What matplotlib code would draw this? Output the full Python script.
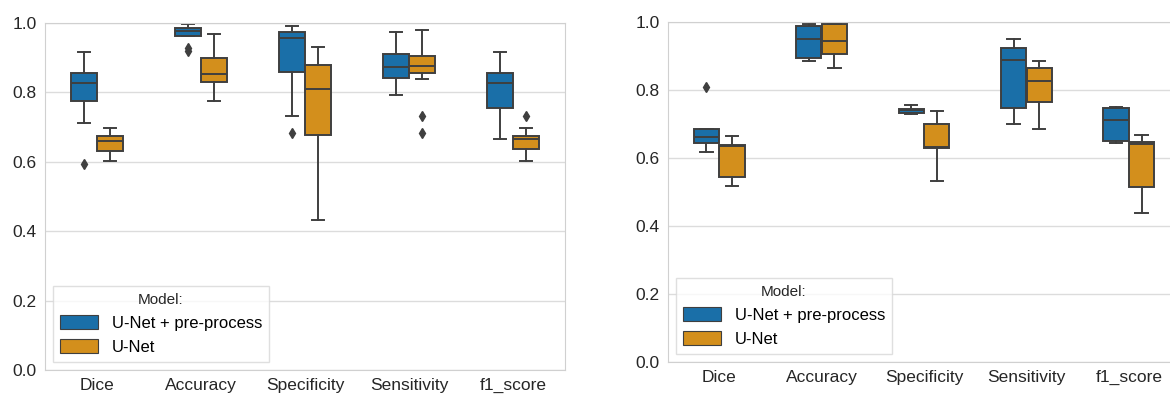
import matplotlib.pyplot as plt
import numpy as np

plt.rcParams['font.family'] = ['Liberation Sans', 'DejaVu Sans']

metrics = ['Dice', 'Accuracy', 'Specificity', 'Sensitivity', 'f1_score']
models = ['U-Net + pre-process', 'U-Net']

# left panel: per metric [whislo, q1, median, q3, whishi]
left_pre = [[0.711, 0.776, 0.827, 0.855, 0.915],
            [0.963, 0.963, 0.978, 0.986, 0.997],
            [0.731, 0.859, 0.956, 0.973, 0.992],
            [0.793, 0.841, 0.872, 0.910, 0.973],
            [0.665, 0.756, 0.827, 0.855, 0.915]]
left_pre_out = [[0.595], [0.918, 0.928], [0.682], [], []]
left_unet = [[0.603, 0.631, 0.660, 0.674, 0.697],
             [0.774, 0.831, 0.852, 0.900, 0.968],
             [0.431, 0.677, 0.809, 0.880, 0.932],
             [0.838, 0.857, 0.877, 0.906, 0.980],
             [0.603, 0.636, 0.665, 0.674, 0.697]]
left_unet_out = [[], [], [], [0.732, 0.682], [0.732]]

# right panel
right_pre = [[0.619, 0.643, 0.663, 0.685, 0.685],
             [0.884, 0.894, 0.951, 0.989, 0.995],
             [0.729, 0.732, 0.740, 0.744, 0.756],
             [0.701, 0.747, 0.887, 0.923, 0.951],
             [0.645, 0.651, 0.712, 0.747, 0.749]]
right_pre_out = [[0.810], [], [], [], []]
right_unet = [[0.517, 0.544, 0.636, 0.638, 0.666],
              [0.865, 0.907, 0.943, 0.994, 0.994],
              [0.533, 0.629, 0.632, 0.699, 0.737],
              [0.685, 0.766, 0.827, 0.866, 0.884],
              [0.437, 0.516, 0.641, 0.648, 0.667]]
right_unet_out = [[], [], [], [], []]

colors = ['#1a6fa8', '#d38f1c']
line_c = '#3f3f3f'


def make_stats(vals, outs):
    stats = []
    for v, o in zip(vals, outs):
        stats.append(dict(whislo=v[0], q1=v[1], med=v[2], q3=v[3], whishi=v[4], fliers=o))
    return stats


def draw_panel(ax, series, fliers):
    x = np.arange(len(metrics))
    w = 0.25
    for k, (vals, outs) in enumerate(zip(series, fliers)):
        pos = x + (k - 0.5) * w
        ax.bxp(make_stats(vals, outs), positions=pos, widths=w * 0.98,
               patch_artist=True, showfliers=True,
               boxprops=dict(facecolor=colors[k], edgecolor=line_c, linewidth=1.4),
               medianprops=dict(color=line_c, linewidth=1.4),
               whiskerprops=dict(color=line_c, linewidth=1.4),
               capprops=dict(color=line_c, linewidth=1.4),
               flierprops=dict(marker='d', markerfacecolor=line_c, markeredgecolor=line_c,
                               markersize=5))
    ax.set_xlim(-0.5, len(metrics) - 0.5)
    ax.set_ylim(0, 1.0)
    ax.set_xticks(x)
    ax.set_xticklabels(metrics, fontsize=12.5, color='#262626')
    ax.set_yticks(np.arange(0, 1.01, 0.2))
    ax.set_yticklabels(['%.1f' % t for t in np.arange(0, 1.01, 0.2)], fontsize=12.5, color='#262626')
    ax.tick_params(length=0, pad=6)
    ax.grid(axis='y', color='#dcdcdc', linewidth=1)
    ax.set_axisbelow(True)
    for s in ax.spines.values():
        s.set_color('#d0d0d0')
    handles = [plt.Rectangle((0, 0), 1, 1, facecolor=c, edgecolor=line_c, linewidth=0.8) for c in colors]
    leg = ax.legend(handles, models, title='Model:', loc='lower left', fontsize=12,
                    title_fontsize=11, handlelength=2.3, handleheight=0.9,
                    frameon=True, framealpha=0.8, edgecolor='#d8d8d8', fancybox=False,
                    borderaxespad=0.5)
    leg.get_title().set_color('#262626')


fig = plt.figure(figsize=(11.7, 3.98), dpi=100)
ax1 = fig.add_axes([45 / 1170, 28 / 398, 520 / 1170, 347 / 398])
ax2 = fig.add_axes([668 / 1170, 36 / 398, 512 / 1170, 340 / 398])
draw_panel(ax1, [left_pre, left_unet], [left_pre_out, left_unet_out])
draw_panel(ax2, [right_pre, right_unet], [right_pre_out, right_unet_out])

fig.savefig('out.png', dpi=100)
